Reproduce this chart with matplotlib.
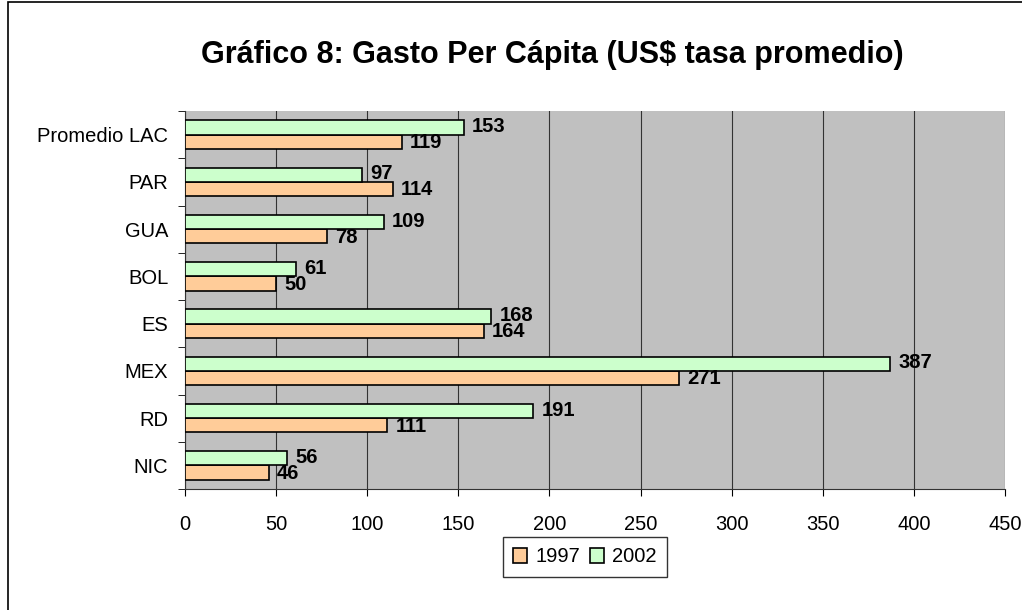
import matplotlib
matplotlib.use("Agg")
import matplotlib.pyplot as plt
from matplotlib.patches import Rectangle
import numpy as np

plt.rcParams['font.family'] = ['Liberation Sans', 'DejaVu Sans']

# Data
categories = ['NIC', 'RD', 'MEX', 'ES', 'BOL', 'GUA', 'PAR', 'Promedio LAC']
values_1997 = [46, 111, 271, 164, 50, 78, 114, 119]
values_2002 = [56, 191, 387, 168, 61, 109, 97, 153]
xticks = [0, 50, 100, 150, 200, 250, 300, 350, 400, 450]

color_1997 = '#FFCC99'
color_2002 = '#CCFFCC'

fig = plt.figure(figsize=(10.22, 6.10), dpi=100)
ax = fig.add_axes([185 / 1022, 1 - 489 / 610, (1005 - 185) / 1022, (489 - 111) / 610])

y = np.arange(len(categories))
h = 0.30
bars97 = ax.barh(y - h / 2, values_1997, height=h, color=color_1997,
                 edgecolor='black', linewidth=1.2, label='1997', zorder=3)
bars02 = ax.barh(y + h / 2, values_2002, height=h, color=color_2002,
                 edgecolor='black', linewidth=1.2, label='2002', zorder=3)

# value labels
for bars, vals, dy in [(bars97, values_1997, -0.02), (bars02, values_2002, 0.02)]:
    for b, v in zip(bars, vals):
        ax.annotate(str(v), (v, b.get_y() + b.get_height() / 2 + dy),
                    xytext=(6, 0), textcoords='offset points',
                    ha='left', va='center', fontsize=14.5, fontweight='bold', zorder=4)

ax.set_facecolor('#C0C0C0')
ax.set_xlim(0, 450)
ax.set_ylim(-0.5, len(categories) - 0.5)
ax.set_xticks(xticks)
ax.set_yticks(y)
ax.set_yticklabels(categories)
ax.set_yticks(np.arange(-0.5, len(categories), 1), minor=True)
ax.tick_params(axis='y', which='major', length=0, labelsize=14.5, pad=12)
ax.tick_params(axis='y', which='minor', length=5, direction='out')
ax.tick_params(axis='x', length=5, direction='out', labelsize=14.5, pad=14)
ax.xaxis.grid(True, color='#333333', linewidth=0.8, zorder=0)
ax.set_axisbelow(True)
for s in ['top', 'right']:
    ax.spines[s].set_visible(False)
ax.spines['left'].set_color('#333333')
ax.spines['bottom'].set_color('#333333')

fig.text(552 / 1022, 1 - 55 / 610, 'Gráfico 8: Gasto Per Cápita (US$ tasa promedio)',
         ha='center', va='center', fontsize=22, fontweight='bold')

leg = fig.legend(handles=[bars97, bars02], labels=['1997', '2002'],
                 loc='center', bbox_to_anchor=(585 / 1022, 1 - 557 / 610),
                 ncol=2, frameon=True, fancybox=False, fontsize=14.5,
                 handlelength=0.7, handleheight=0.7, handletextpad=0.4,
                 columnspacing=0.5, borderpad=0.5)
leg.get_frame().set_edgecolor('black')
leg.get_frame().set_linewidth(1.0)

# figure border
fig.patches.append(Rectangle((8 / 1022, -0.01), 1.02, 1 - 2 / 610 + 0.01,
                             transform=fig.transFigure, fill=False,
                             edgecolor='black', linewidth=1.2))

fig.savefig('out.png', dpi=100)
